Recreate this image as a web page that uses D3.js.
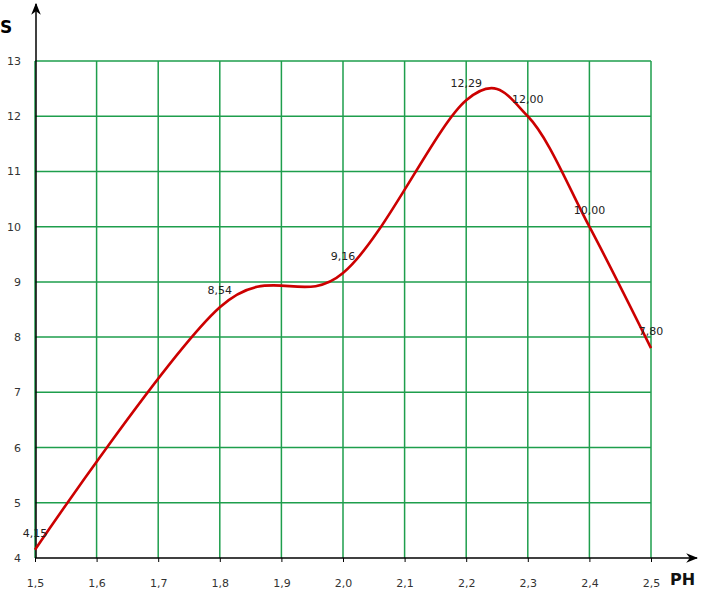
<!DOCTYPE html>
<html>
<head>
<meta charset="utf-8">
<script src="https://cdn.jsdelivr.net/npm/d3@7"></script>
<style>
  body { margin: 0; background: #fff; }
  svg { display: block; }
  .tick text { font-family: "DejaVu Sans", sans-serif; font-size: 11px; fill: #333; }
  .lbl { font-family: "DejaVu Sans", sans-serif; font-size: 11px; fill: #222; }
</style>
</head>
<body>
<div id="chart"></div>
<script>
// data
var phValues = [1.5, 1.8, 2.0, 2.2, 2.3, 2.4, 2.5];
var sValues = [4.15, 8.54, 9.16, 12.29, 12.00, 10.00, 7.80];
var xTicks = [1.5, 1.6, 1.7, 1.8, 1.9, 2.0, 2.1, 2.2, 2.3, 2.4, 2.5];
var yTicks = [4, 5, 6, 7, 8, 9, 10, 11, 12, 13];

var width = 701, height = 590;
var margin = {top: 61, right: 50, bottom: 32, left: 35};
var plotW = 651 - margin.left;
var plotH = 558 - margin.top;

var svg = d3.select("#chart").append("svg")
    .attr("width", width)
    .attr("height", height);

var g = svg.append("g")
    .attr("transform", "translate(" + margin.left + "," + margin.top + ")");

var x = d3.scaleLinear().domain([1.5, 2.5]).range([0, plotW]);
var y = d3.scaleLinear().domain([4, 13]).range([plotH, 0]);

var green = "#1e9e4c";

// grid
g.selectAll("line.vgrid")
  .data(xTicks)
  .enter().append("line")
    .attr("class", "vgrid")
    .attr("x1", function(d) { return x(d); })
    .attr("x2", function(d) { return x(d); })
    .attr("y1", 0)
    .attr("y2", plotH)
    .attr("stroke", green)
    .attr("stroke-width", 1.5);

g.selectAll("line.hgrid")
  .data(yTicks.slice(1))
  .enter().append("line")
    .attr("class", "hgrid")
    .attr("x1", 0)
    .attr("x2", plotW)
    .attr("y1", function(d) { return y(d); })
    .attr("y2", function(d) { return y(d); })
    .attr("stroke", green)
    .attr("stroke-width", 1.5);

// axes with arrows
svg.append("defs").append("marker")
    .attr("id", "arrow")
    .attr("viewBox", "0 0 10 10")
    .attr("refX", 9).attr("refY", 5)
    .attr("markerWidth", 8).attr("markerHeight", 8)
    .attr("orient", "auto")
  .append("path")
    .attr("d", "M0,1 L10,5 L0,9 L3,5 Z")
    .attr("fill", "#000");

g.append("line")
    .attr("x1", 1).attr("x2", 1)
    .attr("y1", plotH).attr("y2", 4 - margin.top)
    .attr("stroke", "#000").attr("stroke-width", 1.5)
    .attr("marker-end", "url(#arrow)");

g.append("line")
    .attr("x1", 0).attr("x2", 697 - margin.left)
    .attr("y1", plotH).attr("y2", plotH)
    .attr("stroke", "#000").attr("stroke-width", 1.5)
    .attr("marker-end", "url(#arrow)");

var fmt = function(d) { return d3.format(".1f")(d).replace(".", ","); };

var xAxis = d3.axisBottom(x)
    .tickValues(xTicks)
    .tickFormat(fmt)
    .tickSize(4)
    .tickPadding(17);

var xg = g.append("g")
    .attr("transform", "translate(0," + plotH + ")")
    .call(xAxis);
xg.select(".domain").remove();
xg.selectAll(".tick line").attr("stroke", "#000");

var yAxis = d3.axisLeft(y)
    .tickValues(yTicks)
    .tickFormat(d3.format("d"))
    .tickSize(0)
    .tickPadding(14);

var yg = g.append("g").call(yAxis);
yg.select(".domain").remove();

// axis titles
svg.append("text")
    .attr("x", 0).attr("y", 33)
    .style("font-family", "DejaVu Sans, sans-serif")
    .style("font-size", "17px")
    .style("font-weight", "bold")
    .text("S");

svg.append("text")
    .attr("x", 670).attr("y", 585)
    .style("font-family", "DejaVu Sans, sans-serif")
    .style("font-size", "16px")
    .style("font-weight", "bold")
    .attr("fill", "#111")
    .text("PH");

// curve
var pts = phValues.map(function(p, i) { return {ph: p, s: sValues[i]}; });

var line = d3.line()
    .x(function(d) { return x(d.ph); })
    .y(function(d) { return y(d.s); })
    .curve(d3.curveCardinal.tension(0));

g.append("path")
    .datum(pts)
    .attr("d", line)
    .attr("fill", "none")
    .attr("stroke", "#cc0000")
    .attr("stroke-width", 2.6);

// value labels
g.selectAll("text.lbl")
  .data(pts)
  .enter().append("text")
    .attr("class", "lbl")
    .attr("x", function(d) { return x(d.ph); })
    .attr("y", function(d) { return y(d.s) - 13; })
    .attr("text-anchor", "middle")
    .text(function(d) { return d3.format(".2f")(d.s).replace(".", ","); });
</script>
</body>
</html>
